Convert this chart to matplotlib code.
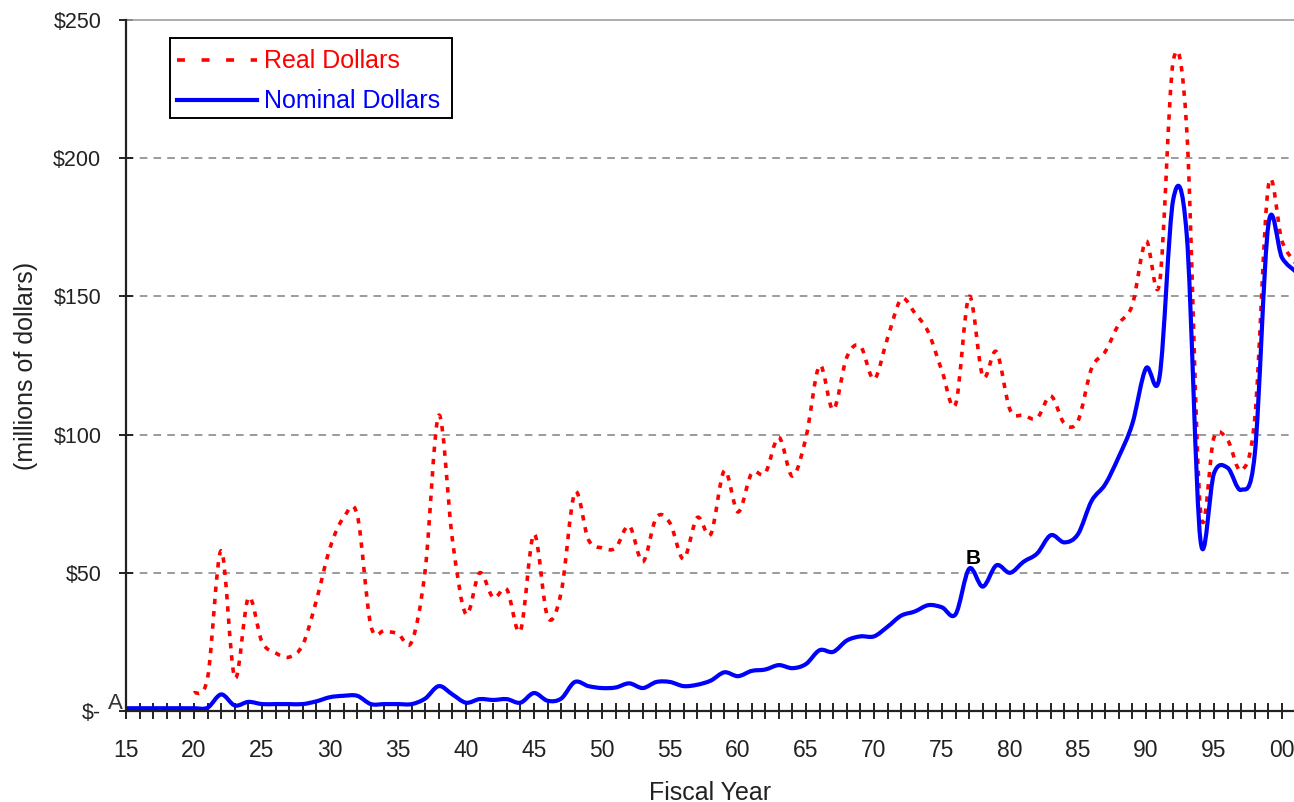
import numpy as np
import matplotlib
matplotlib.use("Agg")
import matplotlib.pyplot as plt
from matplotlib.path import Path
from matplotlib.patches import PathPatch, Rectangle
from matplotlib.lines import Line2D
from matplotlib.ticker import FixedLocator, FuncFormatter

plt.rcParams['font.family'] = ['Liberation Sans', 'DejaVu Sans']

# ---------------- data (millions of dollars) ----------------
nominal_years = list(range(1915, 2002))
nominal_values = [
    1, 1, 1, 1, 1, 1, 1.2,                              # 1915-1921
    6, 2, 3.3, 2.5, 2.5, 2.5, 2.5, 3.5,                  # 1922-1929
    5, 5.5, 5.5, 2.5, 2.5, 2.5, 2.5, 4.5, 9, 6,          # 1930-1939
    3, 4.3, 4, 4.3, 3, 6.5, 3.7, 4.5, 10.5, 9,           # 1940-1949
    8.3, 8.5, 10, 8.3, 10.5, 10.5, 9, 9.5, 11, 14,       # 1950-1959
    12.6, 14.5, 15, 16.6, 15.5, 17, 22, 21.4, 25.5, 27,  # 1960-1969
    27, 30.5, 34.5, 36, 38.3, 37.5, 35, 51.5, 45, 52.7,  # 1970-1979
    50, 54, 57, 63.6, 61, 64, 76, 82, 92, 104,           # 1980-1989
    124, 121, 185, 172, 62, 86, 88, 80, 93, 176,         # 1990-1999
    164, 159,                                            # 2000-2001
]

real_years = list(range(1920, 2002))
real_values = [
    6.5, 12, 58, 12, 41, 25, 21, 19.5, 24, 40,           # 1920-1929
    59, 70, 71, 31, 29, 28, 25, 51, 107, 62,             # 1930-1939
    35, 50, 41, 44, 29, 64, 34, 43, 79, 62,              # 1940-1949
    59, 59, 67, 54, 70, 68, 55, 70, 64, 87,              # 1950-1959
    72, 86, 86, 99, 85, 99, 125, 109, 128, 132,          # 1960-1969
    120, 135, 149, 144, 137, 123, 111, 150, 121, 130,    # 1970-1979
    109, 107, 106, 114, 104, 105, 124, 130, 140, 147,    # 1980-1989
    170, 155, 235, 210, 73, 99, 98, 87, 106, 190,        # 1990-1999
    170, 162,                                            # 2000-2001
]

y_ticks = [0, 50, 100, 150, 200, 250]
y_tick_labels = ["$-", "$50", "$100", "$150", "$200", "$250"]

series_labels = ["Real Dollars", "Nominal Dollars"]
annotations = [("A", 1914.2, 2.6, "normal"), ("B", 1977.3, 55.0, "bold")]


def smooth_path(xs, ys):
    """Excel-style smoothed line (Catmull-Rom as cubic Bezier)."""
    P = np.column_stack([xs, ys]).astype(float)
    n = len(P)
    verts = [P[0]]
    codes = [Path.MOVETO]
    for i in range(n - 1):
        p0 = P[i - 1] if i > 0 else P[i]
        p1 = P[i]
        p2 = P[i + 1]
        p3 = P[i + 2] if i + 2 < n else P[i + 1]
        c1 = p1 + (p2 - p0) / 6.0
        c2 = p2 - (p3 - p1) / 6.0
        verts += [c1, c2, p2]
        codes += [Path.CURVE4] * 3
    return Path(verts, codes)


W, H = 1294, 802
AX_L, AX_R, AX_T, AX_B = 126, 1294, 20, 711

fig = plt.figure(figsize=(W / 100, H / 100), dpi=100)
ax = fig.add_axes([AX_L / W, 1 - AX_B / H, (AX_R - AX_L) / W, (AX_B - AX_T) / H])

ax.set_xlim(1915, 1915 + (AX_R - AX_L) / 13.6)
ax.set_ylim(0, 250)

# grid lines
for yv in y_ticks[1:-1]:
    ax.axhline(yv, color="#808080", lw=1.1, dashes=(5, 4), zorder=1)

red_color = "#FF0000"
blue_color = "#0000FF"
red_lw, blue_lw = 2.6, 3.0

red_patch = PathPatch(smooth_path(real_years, real_values), fill=False,
                      edgecolor=red_color, lw=red_lw, linestyle=(0, (1.5, 1.9)),
                      capstyle="butt", joinstyle="round", zorder=3)
ax.add_patch(red_patch)
blue_patch = PathPatch(smooth_path(nominal_years, nominal_values), fill=False,
                       edgecolor=blue_color, lw=blue_lw, capstyle="round",
                       joinstyle="round", zorder=4)
ax.add_patch(blue_patch)

# spines
ax.spines["right"].set_visible(False)
ax.spines["top"].set_color("#A0A0A0")
ax.spines["top"].set_linewidth(1.2)
for s in ("left", "bottom"):
    ax.spines[s].set_color("#222222")
    ax.spines[s].set_linewidth(1.6)
    ax.spines[s].set_zorder(5)

# ticks
ax.yaxis.set_major_locator(FixedLocator(y_ticks))
ax.set_yticklabels(y_tick_labels)
ax.tick_params(axis="y", direction="inout", length=9.5, width=1.4,
               color="#222222", pad=13, labelsize=15.5)

all_years = list(range(1915, 2001))
ax.xaxis.set_major_locator(FixedLocator(all_years))
ax.xaxis.set_major_formatter(FuncFormatter(
    lambda v, p: f"{int(round(v)) % 100:02d}" if int(round(v)) % 5 == 0 else ""))
ax.tick_params(axis="x", direction="inout", length=11, width=1.4,
               color="#222222", pad=15, labelsize=16.5)
for lab in ax.get_xticklabels() + ax.get_yticklabels():
    lab.set_color("#222222")

ax.set_xlabel("Fiscal Year", fontsize=18, color="#222222", labelpad=13)
ax.set_ylabel("(millions of dollars)", fontsize=18, color="#222222", labelpad=11)

for txt, xv, yv, wt in annotations:
    ax.text(xv, yv, txt, fontsize=16 if wt == "normal" else 15,
            fontweight=wt, ha="center", va="center",
            color="#333333" if wt == "normal" else "#000000",
            clip_on=False, zorder=6)


# legend box drawn in axes-fraction coordinates
def fx(px):
    return (px - AX_L) / (AX_R - AX_L)


def fy(py):
    return (AX_B - py) / (AX_B - AX_T)


ax.add_patch(Rectangle((fx(170), fy(118)), fx(452) - fx(170), fy(38) - fy(118),
                       transform=ax.transAxes, facecolor="white",
                       edgecolor="black", lw=1.4, zorder=7, clip_on=False))
legend_rows = [
    (series_labels[0], red_color, 60, dict(lw=red_lw, dashes=(2.2, 4.6),
                                           dash_capstyle="butt")),
    (series_labels[1], blue_color, 100, dict(lw=blue_lw)),
]
for label, col, py, kw in legend_rows:
    ax.add_line(Line2D([fx(177), fx(257)], [fy(py), fy(py)], color=col,
                       transform=ax.transAxes, zorder=8, clip_on=False, **kw))
    ax.text(fx(264), fy(py + 1), label, color=col, fontsize=18,
            ha="left", va="center", transform=ax.transAxes, zorder=8)

fig.savefig("out.png", dpi=100)
